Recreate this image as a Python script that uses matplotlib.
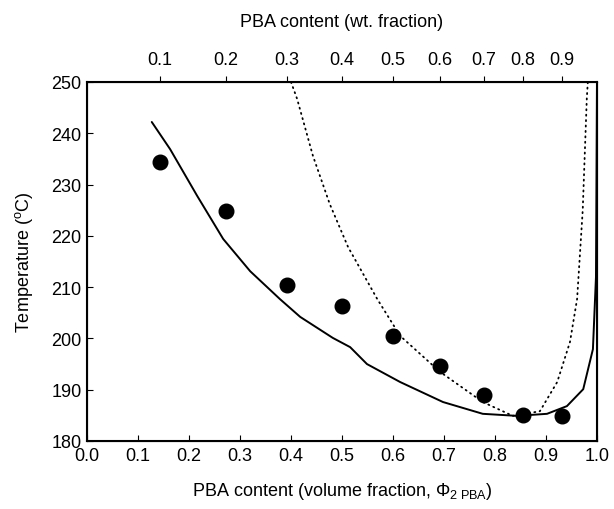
import matplotlib
matplotlib.use("Agg")
import matplotlib.pyplot as plt

plt.rcParams['font.family'] = ['Liberation Sans', 'DejaVu Sans']
plt.rcParams['mathtext.fontset'] = 'custom'
plt.rcParams['mathtext.rm'] = 'Liberation Sans'
plt.rcParams['mathtext.it'] = 'Liberation Sans:italic'

# Experimental points
wt_fraction = [0.1, 0.2, 0.3, 0.4, 0.5, 0.6, 0.7, 0.8, 0.9]
vol_fraction = [0.143, 0.273, 0.392, 0.500, 0.600, 0.692, 0.778, 0.855, 0.931]
temp_exp = [234.4, 224.9, 210.4, 206.3, 200.5, 194.6, 189.0, 185.1, 184.9]

# Solid curve
solid_x = [0.127, 0.163, 0.216, 0.267, 0.320, 0.378, 0.418, 0.482, 0.516, 0.549,
           0.614, 0.698, 0.776, 0.843, 0.902, 0.941, 0.973, 0.992, 0.998, 1.0]
solid_y = [242.2, 236.9, 227.8, 219.4, 213.1, 207.7, 204.2, 200.1, 198.3, 195.0,
           191.5, 187.6, 185.3, 184.9, 185.3, 186.8, 190.1, 197.9, 212.0, 250.0]

# Dotted curve
dot_x = [0.400, 0.412, 0.443, 0.476, 0.512, 0.569, 0.614, 0.692, 0.776, 0.835,
         0.888, 0.922, 0.947, 0.961, 0.972, 0.980, 0.982]
dot_y = [250.0, 246.7, 235.6, 226.2, 217.8, 207.7, 200.5, 193.5, 187.6, 184.9,
         185.8, 191.5, 199.3, 207.7, 225.0, 246.8, 250.0]

fig = plt.figure(figsize=(6.14, 5.10), dpi=100)
ax = fig.add_axes([87/614, 1-442/510, 510/614, 359/510])

ax.plot(solid_x, solid_y, color='black', lw=1.4, solid_capstyle='round')
ax.plot(dot_x, dot_y, color='black', lw=1.3, linestyle=(0, (0.6, 2.4)),
        dash_capstyle='round')
ax.plot(vol_fraction, temp_exp, 'o', color='black', ms=10.5, ls='none')

ax.set_xlim(0.0, 1.0)
ax.set_ylim(180, 250)
ax.set_xticks([i/10 for i in range(11)])
ax.set_xticklabels([f"{i/10:.1f}" for i in range(11)])
ax.set_yticks(range(180, 251, 10))
ax.tick_params(direction='in', length=4, width=0.8, labelsize=13, pad=4)
for s in ax.spines.values():
    s.set_linewidth(1.5)

ax.set_xlabel(r'PBA content (volume fraction, $\Phi_{2\ \mathrm{PBA}}$)',
              fontsize=13, labelpad=12)
ax.set_ylabel(r'Temperature ($^{\mathrm{o}}$C)', fontsize=13, labelpad=12)

ax2 = ax.twiny()
ax2.set_xlim(ax.get_xlim())
ax2.set_xticks(vol_fraction)
ax2.set_xticklabels([f"{w:.1f}" for w in wt_fraction])
ax2.tick_params(direction='out', length=4, width=0.8, labelsize=13, pad=6)
ax2.set_xlabel('PBA content (wt. fraction)', fontsize=13, labelpad=18)

fig.savefig('out.png', dpi=100)
